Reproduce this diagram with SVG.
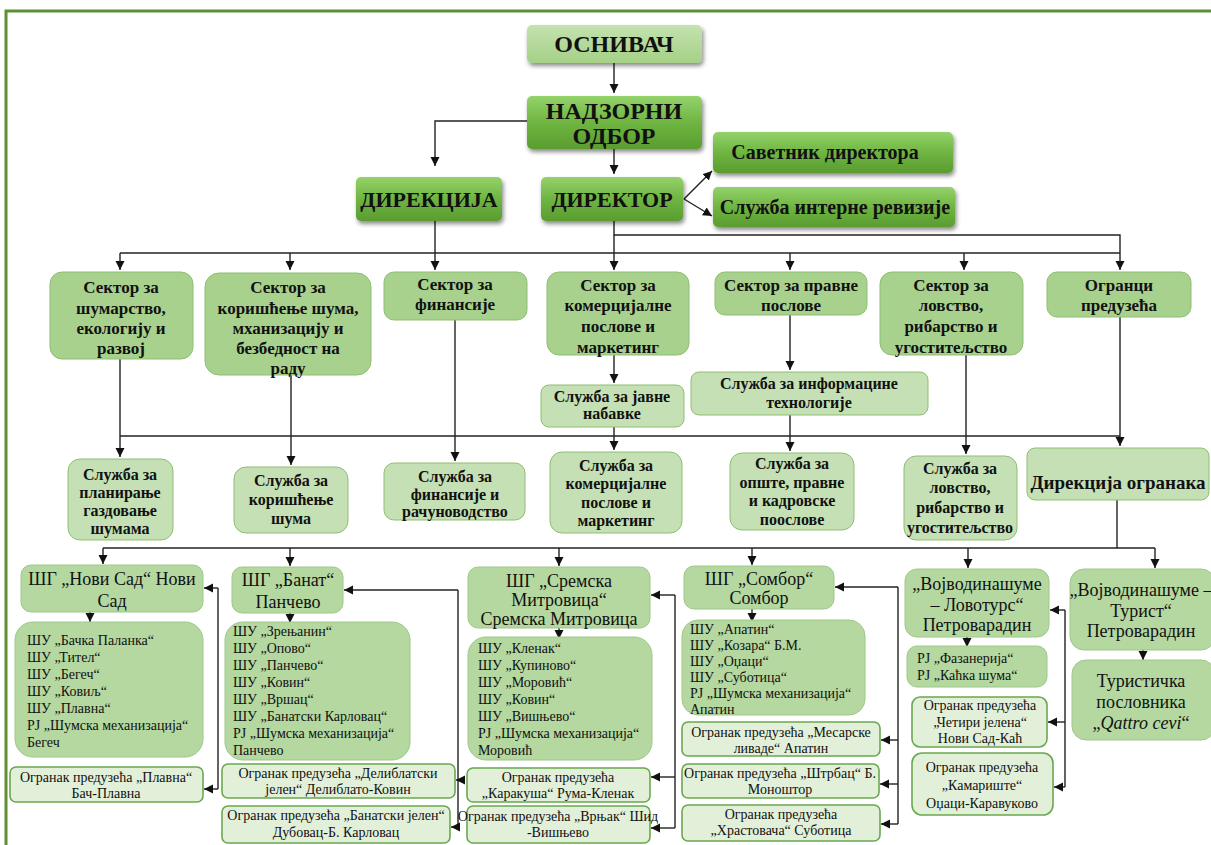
<svg xmlns="http://www.w3.org/2000/svg" width="1211" height="845" viewBox="0 0 1211 845" font-family="'Liberation Serif', 'DejaVu Serif', 'Noto Serif', serif">
<defs>
<linearGradient id="gDark" x1="0" y1="0" x2="0" y2="1">
<stop offset="0" stop-color="#94d26b"/><stop offset="0.5" stop-color="#6fb541"/><stop offset="1" stop-color="#5a9c30"/>
</linearGradient>
<linearGradient id="gLight" x1="0" y1="0" x2="0" y2="1">
<stop offset="0" stop-color="#c4e3b0"/><stop offset="1" stop-color="#a5d086"/>
</linearGradient>
<filter id="sh" x="-10%" y="-10%" width="125%" height="140%">
<feDropShadow dx="1.5" dy="3" stdDeviation="2" flood-color="#000" flood-opacity="0.45"/>
</filter>
<marker id="ar" markerUnits="userSpaceOnUse" markerWidth="10" markerHeight="10" refX="9" refY="4.5" orient="auto">
<path d="M0,0 L9,4.5 L0,9 z" fill="#111"/>
</marker>
</defs>
<style>
text{font-family:'Liberation Serif','DejaVu Serif','Noto Serif',serif;fill:#111}
.b{font-weight:bold}
.c{text-anchor:middle}
.dark{fill:url(#gDark);filter:url(#sh)}
.lt{fill:url(#gLight);filter:url(#sh)}
.sec{fill:#a9d18e;stroke:#8dbf70;stroke-width:1}
.srv{fill:#c5e0b4;stroke:#8dbf70;stroke-width:1}
.shg{fill:#b4d8a0;stroke:#9fc888;stroke-width:1}
.ogr{fill:#e2f0d9;stroke:#6aa84f;stroke-width:1.6}
.t24{font-size:24px}.t22{font-size:22px}.t20{font-size:20px}.t19{font-size:19px}.t18{font-size:18px}.t17{font-size:17px}.t16{font-size:16px}.t14{font-size:14px}
#connectors path{stroke:#222;stroke-width:1.4;fill:none}
</style>
<rect x="0" y="0" width="1211" height="845" fill="#fff"/>
<path d="M6,845 V11 H1211" fill="none" stroke="#5e8f32" stroke-width="3"/>

<g id="connectors">
<path d="M614,63 V93" marker-end="url(#ar)"/>
<path d="M527,121 H435 V166" marker-end="url(#ar)"/>
<path d="M614,149 V174" marker-end="url(#ar)"/>
<path d="M684,199 L712,171" marker-end="url(#ar)"/>
<path d="M684,199 L712,216" marker-end="url(#ar)"/>
<path d="M614,221 V235 H1120 V270" marker-end="url(#ar)"/>
<path d="M435,220 V270" marker-end="url(#ar)"/>
<path d="M120,253 H1120"/>
<path d="M120,253 V270" marker-end="url(#ar)"/>
<path d="M290,253 V270" marker-end="url(#ar)"/>
<path d="M614,235 V270" marker-end="url(#ar)"/>
<path d="M790,253 V270" marker-end="url(#ar)"/>
<path d="M964,253 V270" marker-end="url(#ar)"/>
<path d="M614,355 V383" marker-end="url(#ar)"/>
<path d="M790,315 V370" marker-end="url(#ar)"/>
<path d="M120,436 H1120"/>
<path d="M120,359 V457" marker-end="url(#ar)"/>
<path d="M291,375 V465" marker-end="url(#ar)"/>
<path d="M455,320 V461" marker-end="url(#ar)"/>
<path d="M614,427 V450" marker-end="url(#ar)"/>
<path d="M790,415 V451" marker-end="url(#ar)"/>
<path d="M966,355 V454" marker-end="url(#ar)"/>
<path d="M1120,317 V446" marker-end="url(#ar)"/>
<path d="M1117,500 V548"/>
<path d="M103,548 H1155"/>
<path d="M103,548 V564" marker-end="url(#ar)"/>
<path d="M290,548 V566" marker-end="url(#ar)"/>
<path d="M559,548 V566" marker-end="url(#ar)"/>
<path d="M752,548 V565" marker-end="url(#ar)"/>
<path d="M968,548 V568" marker-end="url(#ar)"/>
<path d="M1155,548 V568" marker-end="url(#ar)"/>
<path d="M90,612 V622" marker-end="url(#ar)"/>
<path d="M290,613 V623" marker-end="url(#ar)"/>
<path d="M559,628 V639" marker-end="url(#ar)"/>
<path d="M752,609 V622" marker-end="url(#ar)"/>
<path d="M967,637 V647" marker-end="url(#ar)"/>
<path d="M1143,650 V660" marker-end="url(#ar)"/>
<path d="M218,588 V789"/>
<path d="M218,588 H204" marker-end="url(#ar)"/>
<path d="M218,789 H204" marker-end="url(#ar)"/>
<path d="M458,590 V827"/>
<path d="M458,590 H344" marker-end="url(#ar)"/>
<path d="M458,780 H456" marker-end="url(#ar)"/>
<path d="M458,827 H451" marker-end="url(#ar)"/>
<path d="M675,595 V828"/>
<path d="M675,595 H651" marker-end="url(#ar)"/>
<path d="M675,777 H651" marker-end="url(#ar)"/>
<path d="M675,828 H651" marker-end="url(#ar)"/>
<path d="M898,587 V824"/>
<path d="M898,587 H835" marker-end="url(#ar)"/>
<path d="M898,740 H881" marker-end="url(#ar)"/>
<path d="M898,784 H880" marker-end="url(#ar)"/>
<path d="M898,824 H881" marker-end="url(#ar)"/>
<path d="M1065,610 V787"/>
<path d="M1065,610 H1050" marker-end="url(#ar)"/>
<path d="M1065,722 H1048" marker-end="url(#ar)"/>
<path d="M1065,787 H1054" marker-end="url(#ar)"/>
</g>

<g id="osnivac"><rect class="lt" x="527" y="25" width="175" height="38" rx="5"/><text class="b c t24" x="614" y="52">ОСНИВАЧ</text></g>
<g id="nadzorni"><rect class="dark" x="527" y="96" width="175" height="53" rx="5"/><text class="b c t24" x="614" y="119">НАДЗОРНИ</text><text class="b c t24" x="614" y="144">ОДБОР</text></g>
<g id="direkcija"><rect class="dark" x="356" y="177" width="146" height="44" rx="5"/><text class="b c t22" x="429" y="207">ДИРЕКЦИЈА</text></g>
<g id="direktor"><rect class="dark" x="541" y="177" width="142" height="44" rx="5"/><text class="b c t22" x="612" y="207">ДИРЕКТОР</text></g>
<g id="savetnik"><rect class="dark" x="713" y="132" width="240" height="41" rx="5"/><text class="b c t20" x="825" y="159">Саветник директора</text></g>
<g id="revizija"><rect class="dark" x="713" y="187" width="242" height="40" rx="5"/><text class="b c t20" x="835" y="214">Служба интерне ревизије</text></g>

<g id="sek1"><rect class="sec" x="50" y="272" width="143" height="87" rx="12"/><text class="b c t17" x="121"><tspan x="121" y="293">Сектор за</tspan><tspan x="121" y="314">шумарство,</tspan><tspan x="121" y="334">екологију и</tspan><tspan x="121" y="354">развој</tspan></text></g>
<g id="sek2"><rect class="sec" x="205" y="273" width="166" height="102" rx="14"/><text class="b c t17" x="288"><tspan x="288" y="293">Сектор за</tspan><tspan x="288" y="314">коришћење шума,</tspan><tspan x="288" y="334">мханизацију и</tspan><tspan x="288" y="354">безбедност на</tspan><tspan x="288" y="374">раду</tspan></text></g>
<g id="sek3"><rect class="sec" x="384" y="272" width="143" height="48" rx="10"/><text class="b c t17" x="455"><tspan x="455" y="290">Сектор за</tspan><tspan x="455" y="310">финансије</tspan></text></g>
<g id="sek4"><rect class="sec" x="547" y="272" width="142" height="83" rx="12"/><text class="b c t17" x="618"><tspan x="618" y="291">Сектор за</tspan><tspan x="618" y="311">комерцијалне</tspan><tspan x="618" y="332">послове и</tspan><tspan x="618" y="353">маркетинг</tspan></text></g>
<g id="sek5"><rect class="sec" x="715" y="272" width="152" height="43" rx="10"/><text class="b c t17" x="791"><tspan x="791" y="291">Сектор за правне</tspan><tspan x="791" y="311">послове</tspan></text></g>
<g id="sek6"><rect class="sec" x="880" y="272" width="143" height="83" rx="12"/><text class="b c t17" x="951"><tspan x="951" y="291">Сектор за</tspan><tspan x="951" y="311">ловство,</tspan><tspan x="951" y="332">рибарство и</tspan><tspan x="951" y="353">угоститељство</tspan></text></g>
<g id="ogranci"><rect class="sec" x="1047" y="272" width="144" height="45" rx="10"/><text class="b c t17" x="1119"><tspan x="1119" y="291">Огранци</tspan><tspan x="1119" y="311">предузећа</tspan></text></g>

<g id="nabavke"><rect class="srv" x="541" y="385" width="143" height="42" rx="8"/><text class="b c t16" x="612"><tspan x="612" y="402">Служба за јавне</tspan><tspan x="612" y="419">набавке</tspan></text></g>
<g id="it"><rect class="srv" x="691" y="372" width="237" height="43" rx="8"/><text class="b c t16" x="809"><tspan x="809" y="389">Служба за информацине</tspan><tspan x="809" y="408">технологије</tspan></text></g>

<g id="sl1"><rect class="srv" x="68" y="459" width="105" height="81" rx="12"/><text class="b c t16" x="120"><tspan x="120" y="480">Служба за</tspan><tspan x="120" y="498">планирање</tspan><tspan x="120" y="516">газдовање</tspan><tspan x="120" y="534">шумама</tspan></text></g>
<g id="sl2"><rect class="srv" x="234" y="467" width="114" height="66" rx="12"/><text class="b c t16" x="291"><tspan x="291" y="486">Служба за</tspan><tspan x="291" y="505">коришћење</tspan><tspan x="291" y="524">шума</tspan></text></g>
<g id="sl3"><rect class="srv" x="384" y="463" width="141" height="57" rx="10"/><text class="b c t16" x="455"><tspan x="455" y="482">Служба за</tspan><tspan x="455" y="500">финансије и</tspan><tspan x="455" y="517">рачуноводство</tspan></text></g>
<g id="sl4"><rect class="srv" x="550" y="452" width="132" height="81" rx="12"/><text class="b c t16" x="616"><tspan x="616" y="471">Служба за</tspan><tspan x="616" y="489">комерцијалне</tspan><tspan x="616" y="508">послове и</tspan><tspan x="616" y="526">маркетинг</tspan></text></g>
<g id="sl5"><rect class="srv" x="730" y="453" width="124" height="77" rx="12"/><text class="b c t16" x="792"><tspan x="792" y="469">Служба за</tspan><tspan x="792" y="488">опште, правне</tspan><tspan x="792" y="506">и кадровске</tspan><tspan x="792" y="525">поослове</tspan></text></g>
<g id="sl6"><rect class="srv" x="904" y="456" width="113" height="84" rx="12"/><text class="b c t16" x="960"><tspan x="960" y="474">Служба за</tspan><tspan x="960" y="493">ловство,</tspan><tspan x="960" y="513">рибарство и</tspan><tspan x="960" y="533">угоститељство</tspan></text></g>
<g id="dirogr"><rect class="srv" x="1027" y="448" width="182" height="52" rx="8"/><text class="b c t19" x="1118" y="489">Дирекција огранака</text></g>

<g id="shg-ns"><rect class="shg" x="21" y="565" width="182" height="47" rx="10"/><text class="c t18" x="112"><tspan x="112" y="585">ШГ „Нови Сад“  Нови</tspan><tspan x="112" y="607">Сад</tspan></text></g>
<g id="list-ns"><rect class="shg" x="15" y="622" width="188" height="135" rx="18"/><text class="t14" x="27"><tspan x="27" y="645">ШУ „Бачка Паланка“</tspan><tspan x="27" y="662">ШУ „Тител“</tspan><tspan x="27" y="679">ШУ „Бегеч“</tspan><tspan x="27" y="696">ШУ „Ковиљ“</tspan><tspan x="27" y="713">ШУ „Плавна“</tspan><tspan x="27" y="730">РЈ „Шумска механизација“</tspan><tspan x="27" y="747">Бегеч</tspan></text></g>
<g id="ogr-plavna"><rect class="ogr" x="10" y="767" width="193" height="35" rx="6"/><text class="c t14" x="106"><tspan x="106" y="782">Огранак предузећа „Плавна“</tspan><tspan x="106" y="798">Бач-Плавна</tspan></text></g>

<g id="shg-banat"><rect class="shg" x="232" y="567" width="111" height="46" rx="10"/><text class="c t18" x="288"><tspan x="288" y="586">ШГ „Банат“</tspan><tspan x="288" y="608">Панчево</tspan></text></g>
<g id="list-banat"><rect class="shg" x="225" y="622" width="185" height="138" rx="18"/><text class="t14" x="233"><tspan x="233" y="636">ШУ „Зрењанин“</tspan><tspan x="233" y="653">ШУ „Опово“</tspan><tspan x="233" y="670">ШУ „Панчево“</tspan><tspan x="233" y="687">ШУ „Ковин“</tspan><tspan x="233" y="704">ШУ „Вршац“</tspan><tspan x="233" y="721">ШУ „Банатски Карловац“</tspan><tspan x="233" y="738">РЈ „Шумска механизација“</tspan><tspan x="233" y="755">Панчево</tspan></text></g>
<g id="ogr-deliblato"><rect class="ogr" x="222" y="764" width="233" height="34" rx="6"/><text class="c t14" x="338"><tspan x="338" y="778">Огранак предузећа „Делиблатски</tspan><tspan x="338" y="794">јелен“ Делиблато-Ковин</tspan></text></g>
<g id="ogr-banjelen"><rect class="ogr" x="222" y="806" width="228" height="37" rx="6"/><text class="c t14" x="336"><tspan x="336" y="820">Огранак предузећа „Банатски јелен“</tspan><tspan x="336" y="837">Дубовац-Б. Карловац</tspan></text></g>

<g id="shg-sm"><rect class="shg" x="468" y="567" width="182" height="61" rx="10"/><text class="c t18" x="559"><tspan x="559" y="587">ШГ „Сремска</tspan><tspan x="559" y="606">Митровица“</tspan><tspan x="559" y="625">Сремска Митровица</tspan></text></g>
<g id="list-sm"><rect class="shg" x="468" y="637" width="184" height="123" rx="18"/><text class="t14" x="478"><tspan x="478" y="653">ШУ „Кленак“</tspan><tspan x="478" y="670">ШУ „Купиново“</tspan><tspan x="478" y="687">ШУ „Моровић“</tspan><tspan x="478" y="704">ШУ „Ковин“</tspan><tspan x="478" y="721">ШУ „Вишњево“</tspan><tspan x="478" y="738">РЈ „Шумска механизација“</tspan><tspan x="478" y="755">Моровић</tspan></text></g>
<g id="ogr-karakusa"><rect class="ogr" x="467" y="768" width="183" height="34" rx="6"/><text class="c t14" x="558"><tspan x="558" y="782">Огранак предузећа</tspan><tspan x="558" y="798">„Каракуша“ Рума-Кленак</tspan></text></g>
<g id="ogr-vrnjak"><rect class="ogr" x="467" y="806" width="183" height="37" rx="6"/><text class="c t14" x="558"><tspan x="558" y="821">Огранак предузећа „Врњак“ Шид</tspan><tspan x="558" y="837">-Вишњево</tspan></text></g>

<g id="shg-sombor"><rect class="shg" x="684" y="566" width="150" height="43" rx="10"/><text class="c t18" x="759"><tspan x="759" y="585">ШГ „Сомбор“</tspan><tspan x="759" y="604">Сомбор</tspan></text></g>
<g id="list-sombor"><rect class="shg" x="682" y="620" width="183" height="95" rx="16"/><text class="t14" x="690"><tspan x="690" y="634">ШУ „Апатин“</tspan><tspan x="690" y="650">ШУ „Козара“ Б.М.</tspan><tspan x="690" y="666">ШУ „Оџаци“</tspan><tspan x="690" y="682">ШУ „Суботица“</tspan><tspan x="690" y="698">РЈ „Шумска механизација“</tspan><tspan x="690" y="714">Апатин</tspan></text></g>
<g id="ogr-mesarske"><rect class="ogr" x="682" y="722" width="198" height="34" rx="6"/><text class="c t14" x="781"><tspan x="781" y="737">Огранак предузећа „Месарске</tspan><tspan x="781" y="753">ливаде“ Апатин</tspan></text></g>
<g id="ogr-strbac"><rect class="ogr" x="682" y="764" width="197" height="34" rx="6"/><text class="c t14" x="780"><tspan x="780" y="778">Огранак предузећа „Штрбац“ Б.</tspan><tspan x="780" y="794">Моноштор</tspan></text></g>
<g id="ogr-hrastovaca"><rect class="ogr" x="682" y="805" width="198" height="36" rx="6"/><text class="c t14" x="781"><tspan x="781" y="819">Огранак предузећа</tspan><tspan x="781" y="835">„Храстовача“ Суботица</tspan></text></g>

<g id="lovotours"><rect class="shg" x="905" y="569" width="144" height="68" rx="12"/><text class="c t18" x="977"><tspan x="977" y="590">„Војводинашуме</tspan><tspan x="977" y="611">– Ловотурс“</tspan><tspan x="977" y="631">Петроварадин</tspan></text></g>
<g id="rj-lovo"><rect class="shg" x="907" y="646" width="140" height="41" rx="10"/><text class="t14" x="917"><tspan x="917" y="663">РЈ „Фазанерија“</tspan><tspan x="917" y="680">РЈ „Каћка шума“</tspan></text></g>
<g id="ogr-cetiri"><rect class="ogr" x="912" y="697" width="135" height="50" rx="8"/><text class="c t14" x="980"><tspan x="980" y="710">Огранак предузећа</tspan><tspan x="980" y="727">„Четири јелена“</tspan><tspan x="980" y="743">Нови Сад-Каћ</tspan></text></g>
<g id="ogr-kamariste"><rect class="ogr" x="912" y="753" width="141" height="62" rx="10"/><text class="c t14" x="982"><tspan x="982" y="772">Огранак предузећа</tspan><tspan x="982" y="790">„Камариште“</tspan><tspan x="982" y="808">Оџаци-Каравуково</tspan></text></g>

<g id="turist"><rect class="shg" x="1070" y="569" width="145" height="81" rx="14"/><text class="c t18" x="1141"><tspan x="1141" y="596">„Војводинашуме –</tspan><tspan x="1141" y="617">Турист“</tspan><tspan x="1141" y="637">Петроварадин</tspan></text></g>
<g id="qattro"><rect class="shg" x="1072" y="660" width="143" height="80" rx="14"/><text class="c t18" x="1141"><tspan x="1141" y="687">Туристичка</tspan><tspan x="1141" y="708">пословника</tspan><tspan x="1141" y="729">„<tspan font-style="italic">Qattro cevi</tspan>“</tspan></text></g>
</svg>
